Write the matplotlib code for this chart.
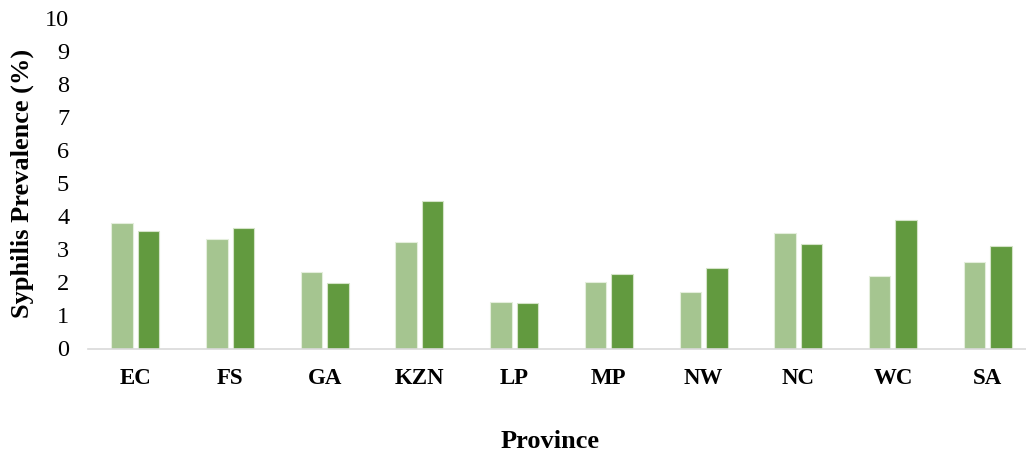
import numpy as np
import matplotlib.pyplot as plt

# Data
provinces = ['EC', 'FS', 'GA', 'KZN', 'LP', 'MP', 'NW', 'NC', 'WC', 'SA']
series_a = [3.80, 3.31, 2.30, 3.21, 1.40, 2.00, 1.71, 3.50, 2.20, 2.61]
series_b = [3.56, 3.63, 1.97, 4.45, 1.37, 2.25, 2.43, 3.16, 3.89, 3.11]

plt.rcParams['font.family'] = ['Liberation Serif', 'DejaVu Serif']

fig = plt.figure(figsize=(10.26, 4.55), dpi=100)
ax = fig.add_axes([88 / 1026, 1 - 348.5 / 455, (1035 - 88) / 1026, (348.5 - 17.5) / 455])

x = np.arange(len(provinces))
w = 0.227
off = 0.14
ax.bar(x - off, series_a, width=w, color='#A5C590', edgecolor='#E4EEDC', linewidth=0.8)
ax.bar(x + off, series_b, width=w, color='#629A3F', edgecolor='#D4E3C8', linewidth=0.8)

ax.set_xlim(-0.5, len(provinces) - 0.5)
ax.set_ylim(0, 10)
ax.set_yticks(range(0, 11))
ax.tick_params(axis='y', length=0, labelsize=17.5, pad=13.5)
ax.tick_params(axis='x', length=0, labelsize=16.5, pad=14)
ax.set_xticks(x)
ax.set_xticklabels(provinces, fontweight='bold')

for s in ['top', 'right', 'left']:
    ax.spines[s].set_visible(False)
ax.spines['bottom'].set_color('#D9D9D9')
ax.spines['bottom'].set_linewidth(1.2)

ax.set_ylabel('Syphilis Prevalence (%)', fontsize=19, fontweight='bold', labelpad=8)
fig.text(550 / 1026, 1 - 441 / 455, 'Province', fontsize=19, fontweight='bold',
         ha='center', va='center')

plt.savefig('out.png', dpi=100)
